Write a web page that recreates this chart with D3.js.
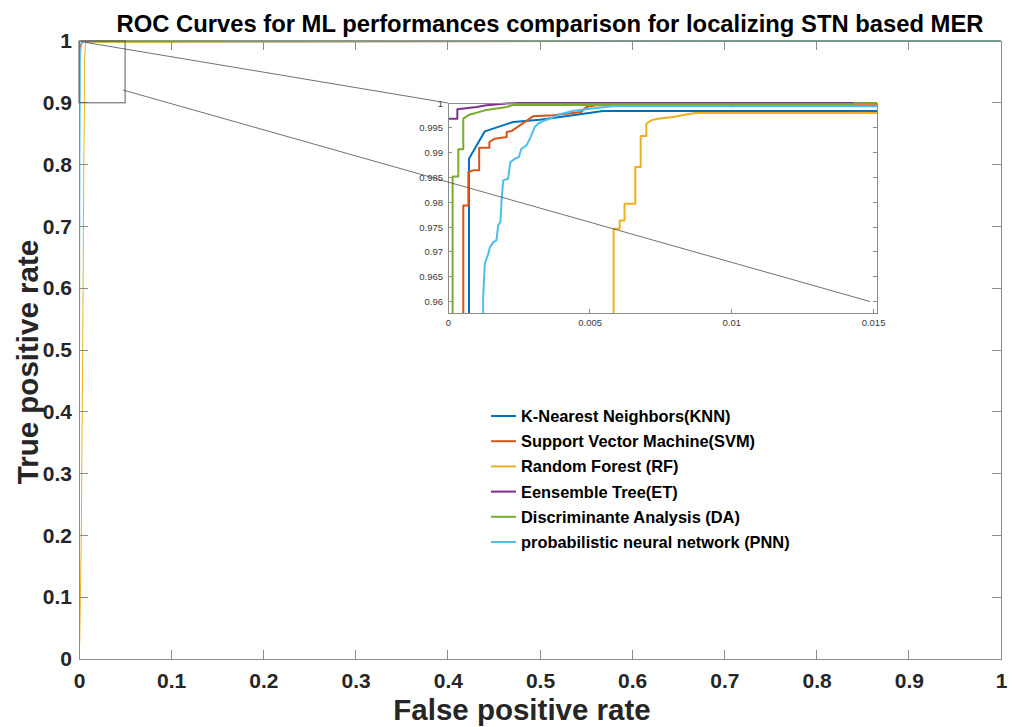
<!DOCTYPE html>
<html>
<head>
<meta charset="utf-8">
<script src="https://cdn.jsdelivr.net/npm/d3@7"></script>
<style>
  html, body { margin: 0; padding: 0; background: #fff; }
  svg { display: block; font-family: "Liberation Sans", Arial, Helvetica, sans-serif; }
</style>
</head>
<body>
<svg id="chart" width="1016" height="727"></svg>
<script>
// ROC curve data: false positive rate / true positive rate per classifier
const modelNames = [
  "K-Nearest Neighbors(KNN)",
  "Support Vector Machine(SVM)",
  "Random Forest (RF)",
  "Eensemble Tree(ET)",
  "Discriminante Analysis (DA)",
  "probabilistic neural network (PNN)"
];
const modelColors = ["#0072BD", "#D95319", "#EDB120", "#7E2F8E", "#77AC30", "#4DBEEE"];

const knnFpr = [0, 0.0002, 0.0005, 0.00074, 0.00074, 0.0013, 0.0023, 0.00324, 0.00441, 0.00547, 0.03, 1];
const knnTpr = [0, 0.35, 0.8, 0.94, 0.98878, 0.99429, 0.99617, 0.99664, 0.99751, 0.99839, 0.99839, 1];

const svmFpr = [0, 0.0002, 0.0004, 0.00054, 0.00054, 0.00072, 0.00072, 0.00089, 0.0011, 0.0011, 0.00146, 0.00146, 0.00165, 0.00207, 0.00207, 0.00224, 0.003, 0.00371, 0.00418, 0.0047, 0.00488, 0.00523, 0.03, 1];
const svmTpr = [0, 0.4, 0.85, 0.95, 0.97937, 0.97937, 0.98609, 0.98643, 0.98643, 0.991, 0.991, 0.99214, 0.99281, 0.99315, 0.99415, 0.99435, 0.99731, 0.99751, 0.99785, 0.99819, 0.9992, 0.99953, 0.99953, 1];

const rfFpr = [0, 0.0008, 0.0025, 0.004, 0.0052, 0.005845, 0.005845, 0.00606, 0.00606, 0.00623, 0.00623, 0.00661, 0.00661, 0.0068, 0.0068, 0.007, 0.007, 0.00717, 0.0074, 0.00793, 0.0087, 0.03, 1];
const rfTpr = [0, 0.03, 0.2, 0.5, 0.8, 0.88, 0.97466, 0.97466, 0.97634, 0.97634, 0.9797, 0.9797, 0.9871, 0.9871, 0.99335, 0.99335, 0.99583, 0.9965, 0.99684, 0.99718, 0.99798, 0.998, 1];

const etFpr = [0, 0, 0, 0.00033, 0.00033, 0.00101, 0.00136, 0.00207, 0.00254, 1];
const etTpr = [0, 0.6, 0.99684, 0.99684, 0.99872, 0.9992, 0.99953, 0.9999, 1, 1];

const daFpr = [0, 0.0001, 0.000164, 0.000164, 0.000364, 0.000364, 0.00054, 0.00054, 0.00075, 0.0013, 0.00166, 0.00207, 0.0023, 0.01433, 0.01433, 1];
const daTpr = [0, 0.5, 0.9, 0.98522, 0.98522, 0.99066, 0.99066, 0.99684, 0.99765, 0.99852, 0.99886, 0.9992, 0.9996, 0.9996, 1, 1];

const pnnFpr = [0, 0.0004, 0.0009, 0.00124, 0.00124, 0.0013, 0.00142, 0.00148, 0.0016, 0.00171, 0.00177, 0.00185, 0.00189, 0.00195, 0.00212, 0.0022, 0.00236, 0.0025, 0.00259, 0.00277, 0.00289, 0.00306, 0.00318, 0.00336, 0.00359, 0.00394, 0.00441, 0.005, 0.00582, 0.03, 1];
const pnnTpr = [0, 0.3, 0.8, 0.93, 0.9609, 0.96761, 0.96962, 0.97097, 0.97198, 0.97231, 0.97534, 0.97601, 0.98038, 0.98441, 0.98474, 0.9881, 0.98878, 0.98911, 0.99079, 0.99147, 0.99281, 0.99516, 0.99583, 0.99637, 0.99684, 0.99772, 0.99839, 0.99886, 0.99933, 0.99933, 1];

const mainTicks = [0, 0.1, 0.2, 0.3, 0.4, 0.5, 0.6, 0.7, 0.8, 0.9, 1];
const insetXTicks = [0, 0.005, 0.01, 0.015];
const insetYTicks = [0.96, 0.965, 0.97, 0.975, 0.98, 0.985, 0.99, 0.995, 1];
const insetXDomain = [0, 0.01514];
const insetYDomain = [0.9577, 1];
const zoomBox = { x0: 0, x1: 0.05, y0: 0.9, y1: 1 };

const curves = [
  [knnFpr, knnTpr], [svmFpr, svmTpr], [rfFpr, rfTpr],
  [etFpr, etTpr], [daFpr, daTpr], [pnnFpr, pnnTpr]
].map(([f, t], i) => ({
  name: modelNames[i],
  color: modelColors[i],
  points: f.map((v, j) => [v, t[j]])
}));

const svg = d3.select("#chart");
const axisColor = "#8c8c8c";

// ---- main axes ----
const M = { left: 79, top: 41, width: 922, height: 618 };
const x = d3.scaleLinear().domain([0, 1]).range([M.left, M.left + M.width]);
const y = d3.scaleLinear().domain([0, 1]).range([M.top + M.height, M.top]);

svg.append("defs").append("clipPath").attr("id", "mainClip")
  .append("rect").attr("x", M.left).attr("y", M.top - 1)
  .attr("width", M.width).attr("height", M.height + 1);

const mainLine = d3.line().x(d => x(d[0])).y(d => y(d[1]));
svg.append("g").attr("clip-path", "url(#mainClip)")
  .selectAll("path").data(curves).join("path")
  .attr("d", d => mainLine(d.points))
  .attr("fill", "none").attr("stroke", d => d.color).attr("stroke-width", 1);

function frame(g, xs, ys, xt, yt, tickLen) {
  const [x0, x1] = xs.range();
  const [y0, y1] = ys.range();
  g.append("rect").attr("x", x0).attr("y", y1).attr("width", x1 - x0).attr("height", y0 - y1)
    .attr("fill", "none").attr("stroke", axisColor).attr("stroke-width", 1)
    .attr("shape-rendering", "crispEdges");
  const tk = g.append("g").attr("stroke", axisColor).attr("stroke-width", 1)
    .attr("shape-rendering", "crispEdges");
  xt.forEach(t => {
    tk.append("line").attr("x1", xs(t)).attr("x2", xs(t)).attr("y1", y0).attr("y2", y0 - tickLen);
    tk.append("line").attr("x1", xs(t)).attr("x2", xs(t)).attr("y1", y1).attr("y2", y1 + tickLen);
  });
  yt.forEach(t => {
    tk.append("line").attr("y1", ys(t)).attr("y2", ys(t)).attr("x1", x0).attr("x2", x0 + tickLen);
    tk.append("line").attr("y1", ys(t)).attr("y2", ys(t)).attr("x1", x1).attr("x2", x1 - tickLen);
  });
}

frame(svg.append("g"), x, y, mainTicks, mainTicks, 9);

// tick labels via d3 axes (domain and tick lines hidden)
const fmt = d => d3.format("")(+d.toFixed(4));
const gx = svg.append("g").attr("transform", `translate(0,${M.top + M.height})`)
  .call(d3.axisBottom(x).tickValues(mainTicks).tickFormat(fmt).tickSize(0).tickPadding(14));
const gy = svg.append("g").attr("transform", `translate(${M.left},0)`)
  .call(d3.axisLeft(y).tickValues(mainTicks).tickFormat(fmt).tickSize(0).tickPadding(7));
[gx, gy].forEach(g => {
  g.select(".domain").remove();
  g.selectAll("text").attr("font-family", "Liberation Sans, Arial, sans-serif")
    .attr("font-size", 21).attr("font-weight", "bold").attr("fill", "#262626");
});

// zoom box on main axes
svg.append("rect")
  .attr("x", x(zoomBox.x0)).attr("y", y(zoomBox.y1))
  .attr("width", x(zoomBox.x1) - x(zoomBox.x0)).attr("height", y(zoomBox.y0) - y(zoomBox.y1))
  .attr("fill", "none").attr("stroke", "#5a5a5a").attr("stroke-width", 1);

// ---- titles ----
svg.append("text").attr("x", M.left + M.width / 2 + 10).attr("y", 32)
  .attr("text-anchor", "middle").attr("font-size", 23.8).attr("font-weight", "bold")
  .attr("fill", "#000").text("ROC Curves for ML performances comparison for localizing STN based MER");
svg.append("text").attr("x", 522).attr("y", 720)
  .attr("text-anchor", "middle").attr("font-size", 29.5).attr("font-weight", "bold")
  .attr("fill", "#262626").text("False positive rate");
svg.append("text").attr("transform", "translate(38,362) rotate(-90)")
  .attr("text-anchor", "middle").attr("font-size", 29.5).attr("font-weight", "bold")
  .attr("fill", "#262626").text("True positive rate");

// ---- legend ----
const leg = svg.append("g").attr("transform", "translate(491,416)");
const rows = leg.selectAll("g").data(curves).join("g")
  .attr("transform", (d, i) => `translate(0,${i * 25.2})`);
rows.append("line").attr("x1", 0).attr("x2", 25).attr("y1", 0).attr("y2", 0)
  .attr("stroke", d => d.color).attr("stroke-width", 2);
rows.append("text").attr("x", 30).attr("y", 6).attr("font-size", 16.4).attr("font-weight", "bold")
  .attr("fill", "#000").text(d => d.name);

// ---- inset (magnified view) ----
const I = { left: 448, top: 103, width: 429, height: 210 };
const xi = d3.scaleLinear().domain(insetXDomain).range([I.left, I.left + I.width]);
const yi = d3.scaleLinear().domain(insetYDomain).range([I.top + I.height, I.top]);

const inset = svg.append("g");
inset.append("rect").attr("x", I.left).attr("y", I.top).attr("width", I.width).attr("height", I.height)
  .attr("fill", "#fff");
svg.select("defs").append("clipPath").attr("id", "insetClip")
  .append("rect").attr("x", I.left).attr("y", I.top - 1).attr("width", I.width).attr("height", I.height + 1);

const insetLine = d3.line().x(d => xi(d[0])).y(d => yi(d[1]));
inset.append("g").attr("clip-path", "url(#insetClip)")
  .selectAll("path").data(curves).join("path")
  .attr("d", d => insetLine(d.points))
  .attr("fill", "none").attr("stroke", d => d.color).attr("stroke-width", 2)
  .attr("stroke-linejoin", "round");

frame(inset, xi, yi, insetXTicks, insetYTicks, 4);

const gxi = inset.append("g").attr("transform", `translate(0,${I.top + I.height})`)
  .call(d3.axisBottom(xi).tickValues(insetXTicks).tickFormat(fmt).tickSize(0).tickPadding(6));
const gyi = inset.append("g").attr("transform", `translate(${I.left},0)`)
  .call(d3.axisLeft(yi).tickValues(insetYTicks).tickFormat(fmt).tickSize(0).tickPadding(5));
[gxi, gyi].forEach(g => {
  g.select(".domain").remove();
  g.selectAll("text").attr("font-family", "Liberation Sans, Arial, sans-serif")
    .attr("font-size", 9.5).attr("fill", "#3a3a3a");
});

// connector lines from zoom box to inset
const conn = svg.append("g").attr("stroke", "#4d4d4d").attr("stroke-width", 0.8);
conn.append("line")
  .attr("x1", x(0.006)).attr("y1", y(0.998))
  .attr("x2", xi(insetXDomain[0])).attr("y2", yi(insetYDomain[1]));
conn.append("line")
  .attr("x1", x(0.0477)).attr("y1", y(0.9207))
  .attr("x2", xi(0.0149)).attr("y2", yi(0.96));
</script>
</body>
</html>
